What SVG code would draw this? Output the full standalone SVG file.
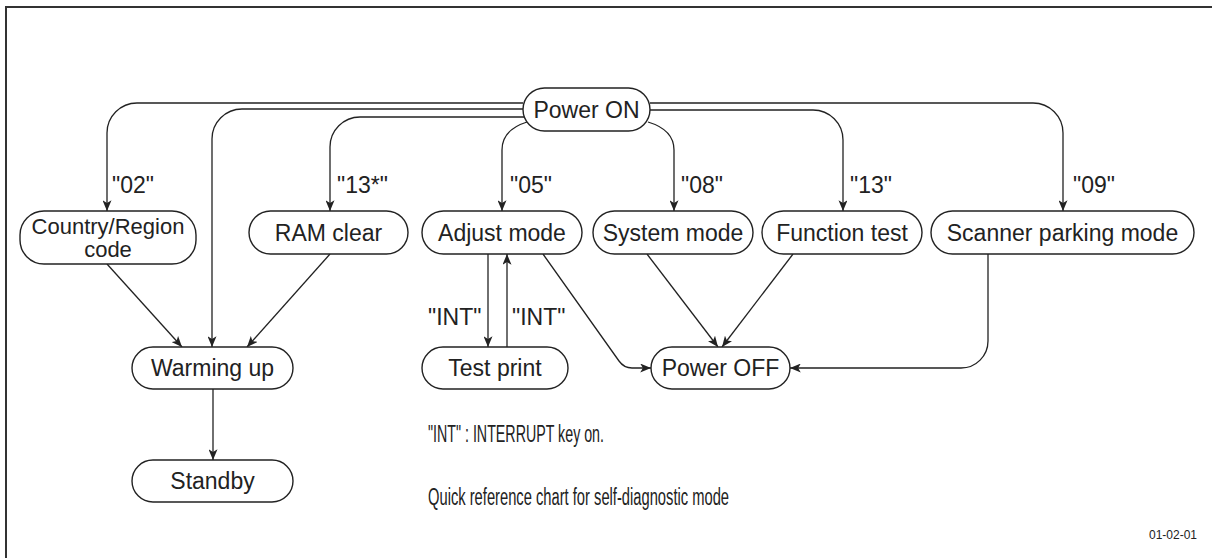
<svg xmlns="http://www.w3.org/2000/svg" width="1212" height="558" viewBox="0 0 1212 558">
<defs>
<marker id="arr" viewBox="0 0 12 10" refX="12" refY="5" markerWidth="11" markerHeight="9" markerUnits="userSpaceOnUse" orient="auto">
<path d="M0,0 L12,5 L0,10 L3,5 z" fill="#222"/>
</marker>
<style>
.n rect{fill:#fff;stroke:#222;stroke-width:1.4}
.t{font-family:"Liberation Sans",Arial,sans-serif;font-size:23px;fill:#222}
.c path{fill:none;stroke:#222;stroke-width:1.3}
.a{marker-end:url(#arr)}
</style>
</defs>
<rect width="1212" height="558" fill="#fff"/>
<path d="M6,558 L6,7 L1212,7" fill="none" stroke="#333" stroke-width="2"/>
<g class="c" id="connectors">
<path class="a" d="M523,103 L137,103 A30,30 0 0 0 107,133 L107,211"/>
<path class="a" d="M523,109 L242,109 A30,30 0 0 0 212,139 L212,347"/>
<path class="a" d="M525,117 L360,117 A30,30 0 0 0 330,147 L330,211"/>
<path class="a" d="M527,122 C508,128 502,138 502,150 L502,211"/>
<path class="a" d="M648,122 C668,128 674,138 674,150 L674,211"/>
<path class="a" d="M650,103 L1033,103 A30,30 0 0 1 1063,133 L1063,211"/>
<path class="a" d="M650,110 L813,110 A30,30 0 0 1 843,140 L843,211"/>
<path class="a" d="M107,264 L182,347"/>
<path class="a" d="M330,254 L247,347"/>
<path class="a" d="M213,389 L213,460"/>
<path class="a" d="M488,254 L488,347"/>
<path class="a" d="M507,347 L507,254"/>
<path class="a" d="M543,254 L619,361 Q624,368 632,368 L651,368"/>
<path class="a" d="M647,254 L718,347"/>
<path class="a" d="M793,254 L722,347"/>
<path class="a" d="M988,254 L988,341 A27,27 0 0 1 961,368 L790,368"/>
</g>
<g id="labels" class="t">
<text x="112" y="193">"02"</text>
<text x="337" y="193">"13*"</text>
<text x="510" y="193">"05"</text>
<text x="681" y="193">"08"</text>
<text x="850" y="193">"13"</text>
<text x="1073" y="193">"09"</text>
<text x="428" y="325">"INT"</text>
<text x="512" y="325">"INT"</text>
</g>
<g id="power-on" class="n"><rect x="523" y="88" width="127" height="43" rx="21.5"/><text class="t" x="586.5" y="118" text-anchor="middle">Power ON</text></g>
<g id="country-region" class="n"><rect x="20" y="211" width="176" height="53" rx="24"/><text class="t" x="108" y="234" text-anchor="middle" style="font-size:22px">Country/Region</text><text class="t" x="108" y="257" text-anchor="middle" style="font-size:22px">code</text></g>
<g id="ram-clear" class="n"><rect x="249" y="211" width="159" height="43" rx="21.5"/><text class="t" x="328.5" y="241" text-anchor="middle">RAM clear</text></g>
<g id="adjust-mode" class="n"><rect x="422" y="211" width="160" height="43" rx="21.5"/><text class="t" x="502" y="241" text-anchor="middle">Adjust mode</text></g>
<g id="system-mode" class="n"><rect x="593" y="211" width="160" height="43" rx="21.5"/><text class="t" x="673" y="241" text-anchor="middle">System mode</text></g>
<g id="function-test" class="n"><rect x="762" y="211" width="160" height="43" rx="21.5"/><text class="t" x="842" y="241" text-anchor="middle">Function test</text></g>
<g id="scanner-parking" class="n"><rect x="931" y="211" width="263" height="43" rx="21.5"/><text class="t" x="1062.5" y="241" text-anchor="middle">Scanner parking mode</text></g>
<g id="warming-up" class="n"><rect x="132" y="347" width="161" height="42" rx="21"/><text class="t" x="212.5" y="376" text-anchor="middle">Warming up</text></g>
<g id="test-print" class="n"><rect x="422" y="347" width="146" height="42" rx="21"/><text class="t" x="495" y="376" text-anchor="middle">Test print</text></g>
<g id="power-off" class="n"><rect x="651" y="347" width="139" height="42" rx="21"/><text class="t" x="720.5" y="376" text-anchor="middle">Power OFF</text></g>
<g id="standby" class="n"><rect x="132" y="460" width="161" height="42" rx="21"/><text class="t" x="212.5" y="489" text-anchor="middle">Standby</text></g>
<g id="notes" class="t">
<text x="428" y="442" textLength="176" lengthAdjust="spacingAndGlyphs">"INT" : INTERRUPT key on.</text>
<text x="428" y="505" textLength="301" lengthAdjust="spacingAndGlyphs">Quick reference chart for self-diagnostic mode</text>
<text x="1197" y="539" text-anchor="end" style="font-size:12px">01-02-01</text>
</g>
</svg>
